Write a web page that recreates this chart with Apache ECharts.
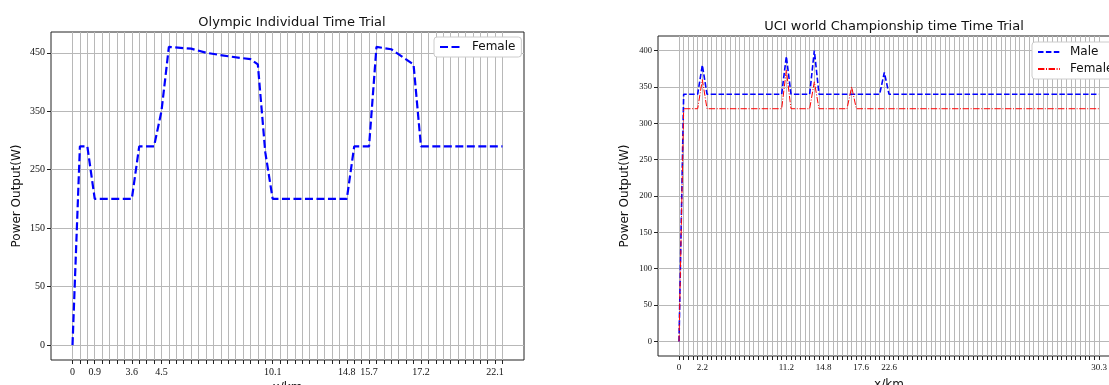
<!DOCTYPE html>
<html>
<head>
<meta charset="utf-8">
<script src="https://cdn.jsdelivr.net/npm/echarts@6/dist/echarts.min.js"></script>
<style>
html, body { margin: 0; padding: 0; background: #fff; }
#chart { width: 1109px; height: 385px; }
</style>
</head>
<body>
<div id="chart"></div>
<script>
// left chart: Olympic ITT, x = sample index, vertices only
var olyIdx = [0, 1, 2, 3, 8, 9, 11, 12, 13, 16, 18, 21, 24, 25, 26, 27, 37, 38, 40, 41, 43, 46, 47, 58];
var olyFemale = [0, 290, 290, 200, 200, 290, 290, 350, 460, 457, 450, 444, 439, 430, 280, 200, 200, 290, 290, 460, 456, 430, 290, 290];
var olyLast = 58;
var olyTickIdx = [0, 3, 8, 12, 27, 37, 40, 47, 57];
var olyTickText = ['0', '0.9', '3.6', '4.5', '10.1', '14.8', '15.7', '17.2', '22.1'];
var olyYTicks = [0, 50, 150, 250, 350, 450];

// right chart: UCI worlds
var uciMaleIdx = [0, 1, 4, 5, 6, 22, 23, 24, 28, 29, 30, 43, 44, 45, 90];
var uciMale = [0, 340, 340, 380, 340, 340, 392, 340, 340, 400, 340, 340, 370, 340, 340];
var uciFemaleIdx = [0, 1, 4, 5, 6, 22, 23, 24, 28, 29, 30, 36, 37, 38, 90];
var uciFemale = [0, 320, 320, 360, 320, 320, 373, 320, 320, 357, 320, 320, 350, 320, 320];
var uciLast = 90;
var uciTickIdx = [0, 5, 23, 31, 39, 45, 90];
var uciTickText = ['0', '2.2', '11.2', '14.8', '17.6', '22.6', '30.3'];
var uciYTicks = [0, 50, 100, 150, 200, 250, 300, 350, 400];

// the left y axis puts 0 one full step under 50
function olyPos(v) { return v < 50 ? 2 * v - 50 : v; }

function pairs(xs, ys, f) {
	return xs.map(function (x, i) { return [x, f ? f(ys[i]) : ys[i]]; });
}
function range(n) {
	var a = [];
	for (var i = 0; i <= n; i++) a.push(i);
	return a;
}
function lookup(ids, txt) {
	return function (v) {
		var i = ids.indexOf(v);
		return i < 0 ? '' : txt[i];
	};
}

var sans = 'DejaVu Sans';
var serif = 'Liberation Serif';
var gridLine = { show: true, lineStyle: { color: '#b8b8b8', width: 1 } };
var tickLine = { color: '#222', width: 1 };
var legendBox = {
	orient: 'vertical', itemWidth: 22, itemHeight: 10, itemGap: 5,
	padding: [4, 6, 4, 5], backgroundColor: '#fff', borderColor: '#ccc', borderWidth: 1, borderRadius: 3,
	itemStyle: { opacity: 0 },
	textStyle: { fontFamily: sans, fontSize: 12, color: '#111', padding: [0, 0, 0, 5] }
};

var olyYPos = olyYTicks.map(olyPos);

var option = {
	backgroundColor: '#fff',
	animation: false,
	title: [
		{ text: 'Olympic Individual Time Trial', left: 287, top: 11, textAlign: 'center',
			textStyle: { fontFamily: sans, fontSize: 13, fontWeight: 'normal', color: '#111' } },
		{ text: 'UCI world Championship time Time Trial', left: 889, top: 15, textAlign: 'center',
			textStyle: { fontFamily: sans, fontSize: 13, fontWeight: 'normal', color: '#111' } }
	],
	legend: [
		echarts.util.merge({ data: ['Female'], left: 434, top: 37 }, legendBox, true),
		echarts.util.merge({ data: ['Male', 'Female '], left: 1032, top: 42 }, legendBox, true)
	],
	grid: [
		{ left: 51, top: 32, width: 473, height: 328, show: true, borderColor: '#222', borderWidth: 1,
			containLabel: false, outerBoundsMode: 'none' },
		{ left: 658, top: 36, width: 462, height: 320, show: true, borderColor: '#222', borderWidth: 1,
			containLabel: false, outerBoundsMode: 'none' }
	],
	xAxis: [
		{ type: 'value', gridIndex: 0, min: -0.05 * olyLast, max: olyLast * 1.05,
			name: 'x/km', nameLocation: 'middle', nameGap: 22,
			nameTextStyle: { fontFamily: sans, fontSize: 12, color: '#111' },
			axisLine: { show: false, onZero: false },
			axisTick: { show: true, length: 4, lineStyle: tickLine, customValues: range(olyLast) },
			splitLine: gridLine,
			axisLabel: { customValues: olyTickIdx, formatter: lookup(olyTickIdx, olyTickText),
				fontFamily: serif, fontSize: 10, color: '#111', margin: 7 } },
		{ type: 'value', gridIndex: 1, min: -0.05 * uciLast, max: uciLast * 1.05,
			name: 'x/km', nameLocation: 'middle', nameGap: 23,
			nameTextStyle: { fontFamily: sans, fontSize: 12, color: '#111' },
			axisLine: { show: false, onZero: false },
			axisTick: { show: true, length: 4, lineStyle: tickLine, customValues: range(uciLast) },
			splitLine: gridLine,
			axisLabel: { customValues: uciTickIdx, formatter: lookup(uciTickIdx, uciTickText),
				fontFamily: serif, fontSize: 9, color: '#111', margin: 7 } }
	],
	yAxis: [
		{ type: 'value', gridIndex: 0, min: -75.5, max: 485.5,
			name: 'Power Output(W)', nameLocation: 'middle', nameGap: 28,
			nameTextStyle: { fontFamily: sans, fontSize: 12, color: '#111' },
			axisLine: { show: false, onZero: false },
			axisTick: { show: true, length: 4, lineStyle: tickLine, customValues: olyYPos },
			splitLine: gridLine,
			axisLabel: { customValues: olyYPos, formatter: lookup(olyYPos, olyYTicks.map(String)),
				fontFamily: serif, fontSize: 10, color: '#111', margin: 6 } },
		{ type: 'value', gridIndex: 1, min: -20, max: 420,
			name: 'Power Output(W)', nameLocation: 'middle', nameGap: 27,
			nameTextStyle: { fontFamily: sans, fontSize: 12, color: '#111' },
			axisLine: { show: false, onZero: false },
			axisTick: { show: true, length: 4, lineStyle: tickLine, customValues: uciYTicks },
			splitLine: gridLine,
			axisLabel: { customValues: uciYTicks, fontFamily: serif, fontSize: 8.5, color: '#111', margin: 6 } }
	],
	series: [
		{ name: 'Female', type: 'line', xAxisIndex: 0, yAxisIndex: 0, symbol: 'none',
			data: pairs(olyIdx, olyFemale, olyPos), color: '#0000ff',
			lineStyle: { color: '#0000ff', width: 2.2, type: [8, 3.5] } },
		{ name: 'Male', type: 'line', xAxisIndex: 1, yAxisIndex: 1, symbol: 'none',
			data: pairs(uciMaleIdx, uciMale), color: '#0000ff',
			lineStyle: { color: '#0000ff', width: 1.6, type: [5.5, 2.4] } },
		{ name: 'Female ', type: 'line', xAxisIndex: 1, yAxisIndex: 1, symbol: 'none',
			data: pairs(uciFemaleIdx, uciFemale), color: '#ff0000',
			lineStyle: { color: '#ff0000', width: 1, type: [6.4, 1.6, 1, 1.6] } }
	]
};

var myChart = echarts.init(document.getElementById('chart'));
myChart.setOption(option);
</script>
</body>
</html>
